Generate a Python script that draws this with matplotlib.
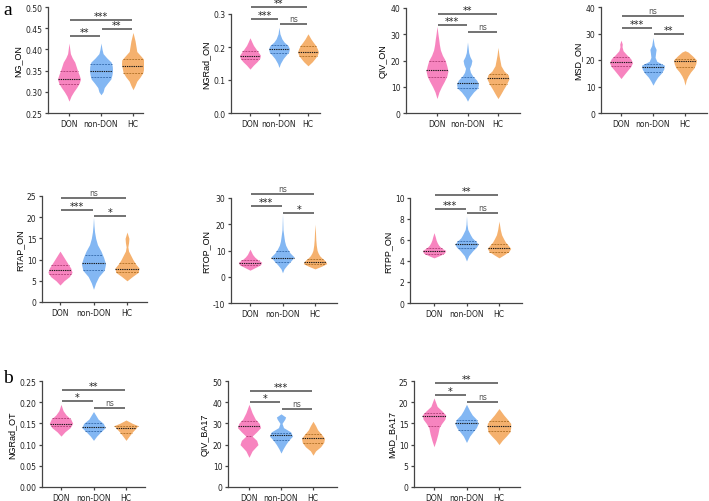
"""Violin plot panels: DON vs non-DON vs HC (optic nerve / BA17 metrics)."""

import matplotlib
matplotlib.use("Agg")
import matplotlib.pyplot as plt
import numpy as np

plt.rcParams.update({
    "font.family": ["DejaVu Sans"],
    "font.size": 5.5,
    "axes.linewidth": 0.9,
    "axes.edgecolor": "#444444",
    "xtick.color": "#444444",
    "ytick.color": "#444444",
    "xtick.labelcolor": "#222222",
    "ytick.labelcolor": "#222222",
    "xtick.major.size": 2.5,
    "ytick.major.size": 2.5,
    "xtick.major.width": 0.9,
    "ytick.major.width": 0.9,
    "xtick.major.pad": 2,
    "ytick.major.pad": 1.5,
})

GROUPS = ["DON", "non-DON", "HC"]

# ─────────────────────────────────────────────────────────────
# Violin profiles:
#   *_Y = levels (bottom -> top), *_W = relative half-width (0..1)
#   *_Q = [Q1, median, Q3], *_SIG = (group a, group b, bar height, label)
# ─────────────────────────────────────────────────────────────
NG_ON_Y = [[0.278, 0.29, 0.30, 0.31, 0.32, 0.33, 0.34, 0.35, 0.36, 0.37, 0.38, 0.39, 0.40, 0.415],
           [0.293, 0.30, 0.31, 0.32, 0.33, 0.34, 0.35, 0.36, 0.37, 0.38, 0.39, 0.40, 0.415],
           [0.305, 0.315, 0.325, 0.335, 0.345, 0.355, 0.365, 0.375, 0.385, 0.395, 0.405, 0.42, 0.44]]
NG_ON_W = [[0, 0.18, 0.40, 0.66, 0.88, 1.0, 0.88, 0.74, 0.62, 0.50, 0.28, 0.12, 0.07, 0],
           [0, 0.18, 0.28, 0.55, 0.85, 0.95, 1.0, 0.98, 0.88, 0.50, 0.18, 0.09, 0],
           [0, 0.18, 0.33, 0.62, 0.85, 0.93, 1.0, 0.98, 0.66, 0.33, 0.27, 0.18, 0]]
NG_ON_Q = [[0.318, 0.331, 0.350], [0.335, 0.349, 0.366], [0.345, 0.362, 0.378]]
NG_ON_SIG = [(0, 1, 0.432, "**"), (1, 2, 0.448, "**"), (0, 2, 0.469, "***")]

NGRAD_ON_Y = [[0.133, 0.145, 0.155, 0.165, 0.175, 0.185, 0.195, 0.205, 0.215, 0.228],
              [0.138, 0.15, 0.165, 0.175, 0.185, 0.195, 0.205, 0.215, 0.225, 0.24, 0.26],
              [0.143, 0.155, 0.165, 0.175, 0.185, 0.195, 0.205, 0.215, 0.225, 0.24]]
NGRAD_ON_W = [[0, 0.33, 0.66, 0.93, 1.0, 0.78, 0.55, 0.33, 0.18, 0],
              [0, 0.13, 0.40, 0.66, 0.93, 1.0, 0.85, 0.49, 0.27, 0.09, 0],
              [0, 0.40, 0.66, 0.89, 1.0, 0.89, 0.73, 0.49, 0.27, 0]]
NGRAD_ON_Q = [[0.163, 0.173, 0.187], [0.181, 0.193, 0.206], [0.172, 0.186, 0.203]]
NGRAD_ON_SIG = [(0, 1, 0.285, "***"), (1, 2, 0.270, "ns"), (0, 2, 0.321, "**")]

QIV_ON_Y = [[5.5, 8, 10, 12, 14, 16, 18, 20, 22, 24, 26, 28, 30, 33],
            [4.5, 6, 8, 9.5, 11, 12.5, 14, 15.5, 17, 18.5, 20, 21.5, 23, 27],
            [5.5, 7, 9, 11, 13, 14.5, 16, 18, 20, 22, 25]]
QIV_ON_W = [[0, 0.18, 0.40, 0.66, 0.89, 1.0, 0.89, 0.75, 0.49, 0.31, 0.22, 0.16, 0.09, 0],
            [0, 0.18, 0.55, 0.93, 1.0, 0.84, 0.49, 0.27, 0.18, 0.33, 0.40, 0.22, 0.11, 0],
            [0, 0.22, 0.49, 0.78, 1.0, 0.93, 0.55, 0.27, 0.18, 0.09, 0]]
QIV_ON_Q = [[13.7, 16.2, 20.0], [9.7, 11.3, 13.7], [11.0, 13.5, 15.0]]
QIV_ON_SIG = [(0, 1, 33.5, "***"), (1, 2, 30.8, "ns"), (0, 2, 37.8, "**")]

MSD_ON_Y = [[13, 14.5, 16, 17.5, 19, 20.5, 22, 23.5, 25, 26, 27.5],
            [10.5, 12, 13.5, 15, 16.5, 18, 19.5, 21, 22.5, 24, 25.5, 28.5],
            [10.5, 12.5, 14, 15.5, 17, 18.5, 20, 21.5, 23, 23.5]]
MSD_ON_W = [[0, 0.27, 0.55, 0.84, 1.0, 0.84, 0.49, 0.18, 0.09, 0.11, 0],
            [0, 0.18, 0.40, 0.71, 0.93, 1.0, 0.33, 0.18, 0.22, 0.27, 0.11, 0],
            [0, 0.11, 0.27, 0.49, 0.78, 0.93, 1.0, 0.66, 0.27, 0]]
MSD_ON_Q = [[17.8, 19.3, 21.0], [15.3, 17.3, 18.5], [17.3, 19.5, 20.5]]
MSD_ON_SIG = [(0, 1, 32.0, "***"), (1, 2, 29.8, "**"), (0, 2, 36.6, "ns")]

RTAP_ON_Y = [[4, 5, 6, 7, 8, 9, 10, 11, 12],
             [3, 4.5, 6, 7.5, 9, 10.5, 12, 13.5, 15, 16.5, 18, 20],
             [5, 6, 7, 8, 9, 10, 11, 12, 13, 14, 15, 16.5]]
RTAP_ON_W = [[0, 0.33, 0.78, 1.0, 0.89, 0.66, 0.44, 0.22, 0],
             [0, 0.18, 0.44, 0.89, 1.0, 0.84, 0.62, 0.33, 0.18, 0.09, 0.04, 0],
             [0, 0.44, 0.93, 1.0, 0.71, 0.49, 0.31, 0.13, 0.07, 0.13, 0.16, 0]]
RTAP_ON_Q = [[6.5, 7.5, 8.7], [7.5, 9.1, 11.2], [7.0, 7.9, 9.3]]
RTAP_ON_SIG = [(0, 1, 21.7, "***"), (1, 2, 20.3, "*"), (0, 2, 24.5, "ns")]

RTOP_ON_Y = [[2.5, 3.5, 4.5, 5.5, 6.5, 7.5, 8.5, 10.5],
             [1.5, 3, 4.5, 6, 7.5, 9, 10.5, 12, 13.5, 15, 18, 24],
             [3, 4, 5, 6, 7, 8, 9, 10, 12, 14, 17, 20]]
RTOP_ON_W = [[0, 0.44, 0.89, 1.0, 0.66, 0.40, 0.22, 0],
             [0, 0.13, 0.40, 0.71, 1.0, 0.66, 0.44, 0.27, 0.18, 0.13, 0.04, 0],
             [0, 0.55, 1.0, 0.89, 0.62, 0.40, 0.27, 0.18, 0.11, 0.07, 0.04, 0]]
RTOP_ON_Q = [[4.3, 5.2, 6.2], [5.8, 7.2, 9.8], [4.7, 5.5, 6.8]]
RTOP_ON_SIG = [(0, 1, 27.0, "***"), (1, 2, 24.3, "*"), (0, 2, 31.5, "ns")]

RTPP_ON_Y = [[4.3, 4.5, 4.75, 5.0, 5.25, 5.5, 5.75, 6.0, 6.3, 6.7],
             [4.0, 4.5, 5.0, 5.3, 5.6, 5.9, 6.2, 6.5, 7.0, 7.5, 8.3],
             [4.3, 4.6, 4.9, 5.2, 5.5, 5.8, 6.1, 6.5, 7.0, 7.8]]
RTPP_ON_W = [[0, 0.44, 0.89, 1.0, 0.62, 0.40, 0.27, 0.18, 0.11, 0],
             [0, 0.18, 0.55, 0.84, 1.0, 0.78, 0.49, 0.33, 0.11, 0.04, 0],
             [0, 0.44, 0.84, 1.0, 0.78, 0.55, 0.40, 0.22, 0.11, 0]]
RTPP_ON_Q = [[4.7, 4.95, 5.2], [5.2, 5.6, 5.9], [4.9, 5.25, 5.6]]
RTPP_ON_SIG = [(0, 1, 8.95, "***"), (1, 2, 8.57, "ns"), (0, 2, 10.29, "**")]

NGRAD_OT_Y = [[0.12, 0.13, 0.14, 0.15, 0.16, 0.17, 0.18, 0.195],
              [0.11, 0.12, 0.13, 0.14, 0.15, 0.16, 0.17, 0.178],
              [0.11, 0.12, 0.13, 0.14, 0.145, 0.15, 0.158]]
NGRAD_OT_W = [[0, 0.33, 0.78, 1.0, 0.84, 0.44, 0.18, 0],
              [0, 0.27, 0.62, 1.0, 0.84, 0.40, 0.18, 0],
              [0, 0.27, 0.55, 0.89, 1.0, 0.55, 0]]
NGRAD_OT_Q = [[0.143, 0.149, 0.162], [0.133, 0.141, 0.152], [0.128, 0.139, 0.145]]
NGRAD_OT_SIG = [(0, 1, 0.203, "*"), (1, 2, 0.186, "ns"), (0, 2, 0.229, "**")]

QIV_BA17_Y = [[14, 17, 20, 22, 24, 26, 28, 30, 32, 35, 39],
              [16, 18, 20, 22, 24, 26, 28, 30, 32, 33, 34.5],
              [15, 17, 19, 21, 23, 25, 27, 29, 31]]
QIV_BA17_W = [[0, 0.27, 0.78, 0.66, 0.27, 0.66, 1.0, 0.89, 0.55, 0.27, 0],
              [0, 0.18, 0.40, 0.66, 1.0, 0.84, 0.22, 0.09, 0.33, 0.40, 0],
              [0, 0.22, 0.66, 0.93, 1.0, 0.71, 0.40, 0.22, 0]]
QIV_BA17_Q = [[24.0, 28.7, 31.0], [22.0, 24.5, 25.5], [20.8, 23.2, 25.0]]
QIV_BA17_SIG = [(0, 1, 40.0, "*"), (1, 2, 36.8, "ns"), (0, 2, 45.3, "***")]

MAD_BA17_Y = [[9.5, 11, 12.5, 14, 15, 16, 17, 18, 19, 21],
              [10.5, 12, 13, 14, 15, 16, 17, 18, 19.5],
              [10, 11, 12, 13, 14, 15, 16, 17, 18.5]]
MAD_BA17_W = [[0, 0.18, 0.33, 0.44, 0.66, 0.93, 1.0, 0.66, 0.27, 0],
              [0, 0.27, 0.55, 0.84, 1.0, 0.84, 0.49, 0.27, 0],
              [0, 0.27, 0.62, 0.93, 1.0, 1.0, 0.71, 0.40, 0]]
MAD_BA17_Q = [[14.5, 16.8, 17.5], [13.5, 15.0, 15.8], [13.2, 14.3, 15.5]]
MAD_BA17_SIG = [(0, 1, 21.7, "*"), (1, 2, 20.0, "ns"), (0, 2, 24.5, "**")]

FILL = ["#F784BF", "#83B7F3", "#F5B16E"]
QLINE = ["#B8487F", "#3F74B5", "#B8782F"]

W_PX, H_PX = 709, 502
HALF = 0.36  # max violin half-width in category units

# (label, Y, W, Q, SIG, yticks, tick fmt, [left, right, top, bottom, x_DON, x_HC] in px)
PANELS = [
    ("NG_ON", NG_ON_Y, NG_ON_W, NG_ON_Q, NG_ON_SIG, np.arange(0.25, 0.501, 0.05), "{:.2f}",
     [48, 143, 8, 114, 69, 133]),
    ("NGRad_ON", NGRAD_ON_Y, NGRAD_ON_W, NGRAD_ON_Q, NGRAD_ON_SIG, np.arange(0, 0.31, 0.1), "{:.1f}",
     [231, 320, 15, 114, 250, 308]),
    ("QIV_ON", QIV_ON_Y, QIV_ON_W, QIV_ON_Q, QIV_ON_SIG, np.arange(0, 41, 10), "{:.0f}",
     [406, 520, 9, 114, 437, 498]),
    ("MSD_ON", MSD_ON_Y, MSD_ON_W, MSD_ON_Q, MSD_ON_SIG, np.arange(0, 41, 10), "{:.0f}",
     [601, 707, 8, 114, 621, 685]),
    ("RTAP_ON", RTAP_ON_Y, RTAP_ON_W, RTAP_ON_Q, RTAP_ON_SIG, np.arange(0, 26, 5), "{:.0f}",
     [42, 147, 197, 303, 60, 127]),
    ("RTOP_ON", RTOP_ON_Y, RTOP_ON_W, RTOP_ON_Q, RTOP_ON_SIG, np.arange(-10, 31, 10), "{:.0f}",
     [231, 337, 199, 304, 250, 315]),
    ("RTPP_ON", RTPP_ON_Y, RTPP_ON_W, RTPP_ON_Q, RTPP_ON_SIG, np.arange(0, 11, 2), "{:.0f}",
     [410, 522, 199, 304, 434, 499]),
    ("NGRad_OT", NGRAD_OT_Y, NGRAD_OT_W, NGRAD_OT_Q, NGRAD_OT_SIG, np.arange(0, 0.251, 0.05), "{:.2f}",
     [42, 145, 382, 488, 61, 126]),
    ("QIV_BA17", QIV_BA17_Y, QIV_BA17_W, QIV_BA17_Q, QIV_BA17_SIG, np.arange(0, 51, 10), "{:.0f}",
     [228, 337, 382, 488, 249, 313]),
    ("MAD_BA17", MAD_BA17_Y, MAD_BA17_W, MAD_BA17_Q, MAD_BA17_SIG, np.arange(0, 26, 5), "{:.0f}",
     [414, 520, 382, 488, 434, 499]),
]


def draw_panel(fig, label, ys, ws, qs, sigs, yticks, fmt, box):
    left, right, top, bottom, x0, x2 = box
    ax = fig.add_axes([left / W_PX, 1 - bottom / H_PX,
                       (right - left) / W_PX, (bottom - top) / H_PX])
    step = (x2 - x0) / 2
    ax.set_xlim(-(x0 - left) / step, 2 + (right - x2) / step)
    ax.set_ylim(yticks[0], yticks[-1])

    for i in range(3):
        y = np.array(ys[i])
        w = np.array(ws[i]) * HALF
        ax.fill_betweenx(y, i - w, i + w, color=FILL[i], lw=0, zorder=2)
        for k, q in enumerate(qs[i]):
            hw = np.interp(q, y, w)
            if k == 1:
                ax.plot([i - hw, i + hw], [q, q], color="#1a1a1a", lw=0.8,
                        ls=(0, (1.2, 0.8)), zorder=3)
            else:
                ax.plot([i - hw, i + hw], [q, q], color=QLINE[i], lw=0.7,
                        ls=(0, (2.0, 1.0)), zorder=3)

    for a, b, h, txt in sigs:
        ax.plot([a + 0.02, b - 0.02], [h, h], color="#5a5a5a", lw=1.2,
                clip_on=False, solid_capstyle="butt")
        ns = txt == "ns"
        ax.annotate(txt, xy=((a + b) / 2, h), xytext=(0, 0.6 if ns else -0.8),
                    textcoords="offset points", ha="center", va="bottom",
                    fontsize=5.5 if ns else 7, color="#555555" if ns else "#222222",
                    annotation_clip=False)

    ax.set_xticks(range(3))
    ax.set_xticklabels(GROUPS)
    ax.set_yticks(yticks)
    ax.set_yticklabels([fmt.format(v) for v in yticks])
    ax.set_ylabel(label, fontsize=6.5, labelpad=2,
                  family=["Liberation Sans Narrow", "Liberation Sans"])
    for side in ("top", "right"):
        ax.spines[side].set_visible(False)
    return ax


if __name__ == "__main__":
    fig = plt.figure(figsize=(W_PX / 100, H_PX / 100), dpi=100)
    for p in PANELS:
        draw_panel(fig, *p)
    fig.text(3 / W_PX, 1 - 2 / H_PX, "a", family="Liberation Serif", fontsize=14, va="top")
    fig.text(3 / W_PX, 1 - 370 / H_PX, "b", family="Liberation Serif", fontsize=14, va="top")
    fig.savefig("out.png", dpi=100)
